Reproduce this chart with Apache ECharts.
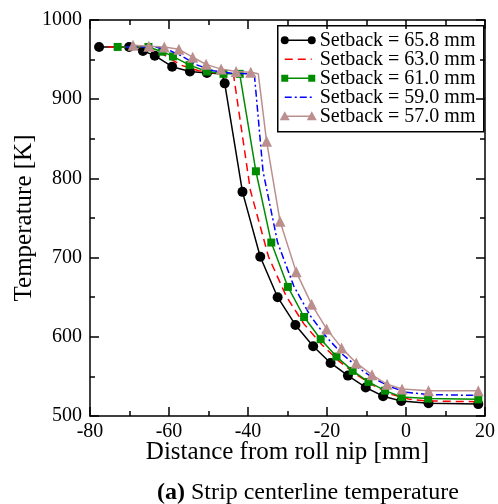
<!DOCTYPE html>
<html><head><meta charset="utf-8">
<script src="https://cdn.jsdelivr.net/npm/echarts@6/dist/echarts.min.js"></script>
<style>html,body{margin:0;padding:0;background:#fff}#c{width:498px;height:504px}</style>
</head><body><div id="c"></div>
<script>
// ---- data ----
const seriesNames = ['Setback = 65.8 mm','Setback = 63.0 mm','Setback = 61.0 mm','Setback = 59.0 mm','Setback = 57.0 mm'];
const xTickLabels = ['-80','-60','-40','-20','0','20'];
const yTickLabels = ['500','600','700','800','900','1000'];

const x658 = [-77.7,-70.1,-66.6,-63.6,-59.2,-54.7,-50.4,-46.6,-45.9,-41.4,-36.9,-32.5,-28.0,-23.5,-19.1,-14.7,-10.2,-5.8,-1.2,5.7,18.3];
const y658 = [966,966,961,955,941,935,933,932,920,783,701,650,615,588,567,551,536,525,519,516,515];
const noMark658 = [-46.6];

const x630 = [-75.5,-67.5,-64.5,-61.3,-57.0,-52.5,-48.2,-43.7,-39.4,-34.8,-30.3,-25.8,-21.3,-16.9,-12.5,-8.0,-3.5,1.0,5.7,18.3];
const y630 = [966,966,962,956,943,936,933,932,785,701,651,616,590,569,552,538,527,521,519,518];

const x610 = [-73.0,-65.2,-61.7,-59.0,-54.8,-50.4,-46.2,-42.1,-38.0,-34.1,-29.9,-25.8,-21.6,-17.6,-13.5,-9.5,-5.3,-1.1,5.6,18.3];
const y610 = [966,966,960,954,943,935,932,932,809,719,663,625,597,575,557,543,532,524,522,521];

const x590 = [-71.0,-63.5,-60.0,-57.0,-52.8,-48.8,-44.5,-38.4,-36.2,-32.5,-28.4,-24.3,-20.2,-16.1,-12.1,-8.0,-4.0,0.0,5.7,18.3];
const y590 = [966,966,962,955,943,936,933,932,809,719,664,627,600,578,561,547,537,530,527,526];

const x570 = [-69.1,-65.1,-61.2,-57.5,-54.0,-50.6,-46.8,-43.0,-39.3,-37.4,-35.3,-31.9,-27.8,-23.9,-20.1,-16.3,-12.6,-8.6,-4.8,-1.0,5.7,18.3];
const y570 = [968,967,966,963,953,944,938,935,934,932,847,746,682,641,610,586,567,552,540,534,532,532];
const noMark570 = [-37.4];

// ---- chart ----
const FONT = "'Liberation Serif','Times New Roman',serif";
const pairs = (xs, ys, hide) => xs.map((x, i) => (hide && hide.indexOf(x) >= 0)
  ? {value: [x, ys[i]], symbol: 'none'} : [x, ys[i]]);
const chart = echarts.init(document.getElementById('c'), null, {renderer: 'canvas'});

function xAx(pos, labels) {
  return {
    type: 'value', position: pos, min: -80, max: 20, interval: 20,
    axisLine: {show: true, onZero: false, lineStyle: {color: '#000', width: 1.5}},
    axisTick: {show: true, inside: true, length: 9, lineStyle: {color: '#000', width: 1.5}},
    minorTick: {show: true, splitNumber: 2, length: 5, lineStyle: {color: '#000', width: 1.5}},
    splitLine: {show: false},
    axisLabel: {show: labels, color: '#000', fontSize: 20, fontFamily: FONT, margin: 6,
      formatter: v => xTickLabels[Math.round((v + 80) / 20)]},
    name: labels ? 'Distance from roll nip [mm]' : '',
    nameLocation: 'middle', nameGap: 24, nameMoveOverlap: false,
    nameTextStyle: {color: '#000', fontSize: 25, fontFamily: FONT}
  };
}
function yAx(pos, labels) {
  return {
    type: 'value', position: pos, min: 500, max: 1000, interval: 100,
    axisLine: {show: true, onZero: false, lineStyle: {color: '#000', width: 1.5}},
    axisTick: {show: true, inside: true, length: 9, lineStyle: {color: '#000', width: 1.5}},
    minorTick: {show: true, splitNumber: 2, length: 5, lineStyle: {color: '#000', width: 1.5}},
    splitLine: {show: false},
    axisLabel: {show: labels, color: '#000', fontSize: 20, fontFamily: FONT, margin: 8,
      formatter: v => yTickLabels[Math.round((v - 500) / 100)]},
    name: labels ? 'Temperature [K]' : '',
    nameLocation: 'middle', nameGap: 53, nameMoveOverlap: false,
    nameTextStyle: {color: '#000', fontSize: 25, fontFamily: FONT}
  };
}

const styles = [
  {color: '#000000', symbol: 'circle', size: 10, dash: null},
  {color: '#ff0000', symbol: 'none', size: 0, dash: [8, 5]},
  {color: '#008c00', symbol: 'rect', size: 8, dash: null},
  {color: '#0000ff', symbol: 'none', size: 0, dash: [7, 3, 2, 3]},
  {color: '#bc8f8f', symbol: 'triangle', size: 11, dash: null}
];
const datas = [pairs(x658, y658, noMark658), pairs(x630, y630), pairs(x610, y610), pairs(x590, y590), pairs(x570, y570, noMark570)];

// custom legend (symbol at both ends of the sample line, as in the reference)
function legendSymbol(st, cx, cy) {
  if (st.symbol === 'circle') return {type: 'circle', shape: {cx, cy, r: 4}, style: {fill: st.color}};
  if (st.symbol === 'rect') return {type: 'rect', shape: {x: cx - 3.5, y: cy - 3.5, width: 7, height: 7}, style: {fill: st.color}};
  if (st.symbol === 'triangle') return {type: 'polygon', shape: {points: [[cx, cy - 5], [cx + 5, cy + 4], [cx - 5, cy + 4]]}, style: {fill: st.color}};
  return null;
}
const legendChildren = [{type: 'rect', shape: {x: 0, y: 0, width: 206, height: 106},
  style: {fill: '#fff', stroke: '#000', lineWidth: 1.5}}];
seriesNames.forEach((n, i) => {
  const st = styles[i], cy = 14.5 + i * 19;
  legendChildren.push({type: 'line', shape: {x1: 7, y1: cy, x2: 34, y2: cy},
    style: {stroke: st.color, lineWidth: 1.5, lineDash: st.dash || null}});
  [7, 34].forEach(cx => { const s = legendSymbol(st, cx, cy); if (s) legendChildren.push(s); });
  legendChildren.push({type: 'text', x: 42, y: cy,
    style: {text: n, fill: '#000', font: '20px ' + FONT, verticalAlign: 'middle', align: 'left'}});
});

chart.setOption({
  animation: false,
  backgroundColor: '#fff',
  textStyle: {fontFamily: FONT},
  grid: {left: 90, right: 11, top: 20, bottom: 88, containLabel: false},
  xAxis: [xAx('bottom', true), xAx('top', false)],
  yAxis: [yAx('left', true), yAx('right', false)],
  title: {
    text: '{b|(a)} Strip centerline temperature',
    left: 152, top: 476,
    textStyle: {color: '#000', fontSize: 24, fontFamily: FONT, fontWeight: 'normal',
      rich: {b: {fontWeight: 'bold', fontSize: 24, fontFamily: FONT, color: '#000'}}}
  },
  graphic: [{type: 'group', left: 277, top: 25, z: 100, children: legendChildren}],
  series: seriesNames.map((n, i) => ({
    name: n, type: 'line', xAxisIndex: 0, yAxisIndex: 0,
    data: datas[i],
    symbol: styles[i].symbol, symbolSize: styles[i].size, showSymbol: styles[i].symbol !== 'none',
    itemStyle: {color: styles[i].color},
    lineStyle: {color: styles[i].color, width: 1.5, type: styles[i].dash || 'solid'},
    z: 2 + i
  }))
});
</script></body></html>
